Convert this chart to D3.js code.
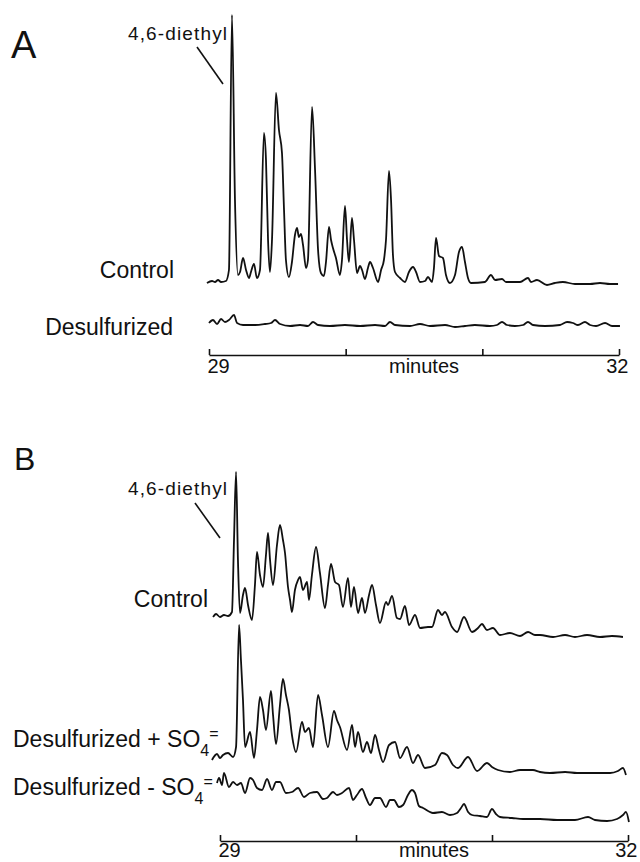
<!DOCTYPE html>
<html>
<head>
<meta charset="utf-8">
<script src="https://cdn.jsdelivr.net/npm/d3@7"></script>
<style>
  body { margin: 0; background: #fff; }
  svg { display: block; font-family: "Liberation Sans", Arial, sans-serif; }
</style>
</head>
<body>
<svg id="chart" width="640" height="862"></svg>
<script>
// retention time (minutes) and detector response
const aControl = [
  [28.985, 2], [29.022, 4], [29.044, 3], [29.066, 5], [29.088, 3], [29.124, 4], [29.146, 15],
  [29.168, 270], [29.190, 85], [29.212, 10], [29.227, 13], [29.249, 27], [29.271, 15], [29.293, 7],
  [29.307, 13], [29.329, 21], [29.351, 7], [29.373, 15], [29.402, 152], [29.417, 125], [29.432, 45],
  [29.446, 13], [29.461, 45], [29.490, 192], [29.512, 155], [29.534, 132], [29.549, 75], [29.563, 25],
  [29.585, 8], [29.607, 23], [29.629, 50], [29.644, 57], [29.658, 48], [29.673, 51], [29.688, 40],
  [29.710, 17], [29.724, 25], [29.754, 178], [29.776, 115], [29.798, 35], [29.819, 12], [29.841, 9],
  [29.856, 23], [29.878, 58], [29.893, 45], [29.907, 37], [29.929, 27], [29.958, 10], [29.973, 25],
  [29.995, 79], [30.010, 45], [30.024, 23], [30.046, 67], [30.061, 45], [30.083, 12], [30.105, 19],
  [30.120, 15], [30.141, 6], [30.163, 17], [30.178, 23], [30.200, 17], [30.237, 3], [30.259, 15],
  [30.280, 25], [30.295, 45], [30.317, 114], [30.332, 85], [30.346, 30], [30.361, 13], [30.398, 7],
  [30.434, 3], [30.463, 13], [30.493, 18], [30.515, 13], [30.544, 3], [30.581, 4], [30.602, 8],
  [30.632, 3], [30.646, 17], [30.661, 47], [30.683, 29], [30.712, 27], [30.734, 10], [30.763, 2],
  [30.800, 10], [30.829, 33], [30.851, 38], [30.873, 23], [30.895, 7], [30.917, 2], [31.019, 3],
  [31.063, 10], [31.093, 5], [31.144, 6], [31.173, 3], [31.276, 3], [31.334, 7], [31.356, 3],
  [31.400, 5], [31.473, 0], [31.532, 2], [31.590, 3], [31.678, 1], [31.788, 1], [31.861, 2],
  [31.934, 1], [31.993, 1]
]

const aDesulf = [
  [29.000, 4], [29.029, 7], [29.059, 3], [29.088, 8], [29.117, 5], [29.146, 7], [29.183, 12],
  [29.205, 4], [29.249, 2], [29.337, 2], [29.410, 3], [29.454, 4], [29.483, 7], [29.520, 3],
  [29.593, 1], [29.666, 2], [29.724, 1], [29.761, 5], [29.798, 2], [29.885, 1], [29.995, 2],
  [30.105, 1], [30.215, 2], [30.288, 1], [30.324, 5], [30.361, 2], [30.471, 1], [30.544, 3],
  [30.617, 1], [30.727, 2], [30.800, 0], [30.873, 1], [30.946, 2], [31.056, 1], [31.107, 2],
  [31.144, 5], [31.180, 2], [31.239, 1], [31.298, 2], [31.334, 5], [31.371, 2], [31.459, 1],
  [31.568, 2], [31.620, 5], [31.663, 4], [31.700, 2], [31.751, 5], [31.788, 2], [31.832, 1],
  [31.898, 4], [31.949, 1], [32.007, 1]
]

const bControl = [
  [28.949, 21], [28.971, 24], [29.000, 21], [29.029, 23], [29.059, 22], [29.088, 26], [29.103, 98],
  [29.118, 166], [29.132, 78], [29.147, 25], [29.169, 43], [29.184, 50], [29.206, 33], [29.235, 18],
  [29.257, 53], [29.272, 86], [29.294, 63], [29.316, 51], [29.338, 83], [29.353, 105], [29.368, 78],
  [29.390, 53], [29.419, 93], [29.441, 113], [29.463, 98], [29.478, 85], [29.500, 51], [29.515, 38],
  [29.529, 26], [29.551, 48], [29.574, 58], [29.588, 61], [29.610, 48], [29.640, 56], [29.654, 38],
  [29.676, 63], [29.706, 91], [29.735, 65], [29.772, 30], [29.794, 53], [29.816, 74], [29.846, 56],
  [29.875, 53], [29.904, 31], [29.941, 60], [29.963, 31], [29.985, 51], [30.015, 25], [30.044, 40],
  [30.066, 25], [30.096, 43], [30.118, 53], [30.147, 33], [30.176, 15], [30.221, 36], [30.235, 33],
  [30.265, 42], [30.301, 20], [30.324, 19], [30.360, 32], [30.390, 13], [30.434, 23], [30.471, 10],
  [30.529, 11], [30.559, 11], [30.603, 28], [30.632, 23], [30.654, 26], [30.706, 11], [30.743, 6],
  [30.794, 21], [30.853, 6], [30.897, 10], [30.926, 14], [30.963, 8], [31.007, 10], [31.059, 3],
  [31.132, 5], [31.206, 2], [31.265, 6], [31.316, 3], [31.353, 3], [31.449, 1], [31.537, 3],
  [31.610, 1], [31.699, 3], [31.794, 1], [31.882, 2], [31.963, 1]
]

const bDesulfPlus = [
  [28.941, 15], [28.978, 21], [29.000, 17], [29.022, 20], [29.059, 22], [29.096, 18], [29.118, 28],
  [29.140, 150], [29.154, 115], [29.169, 75], [29.184, 28], [29.221, 43], [29.250, 17], [29.272, 45],
  [29.294, 78], [29.316, 65], [29.338, 45], [29.375, 84], [29.390, 60], [29.412, 31], [29.441, 70],
  [29.463, 96], [29.485, 80], [29.507, 65], [29.529, 40], [29.559, 23], [29.603, 53], [29.625, 43],
  [29.654, 47], [29.684, 28], [29.721, 80], [29.750, 60], [29.794, 28], [29.838, 64], [29.860, 55],
  [29.882, 48], [29.934, 25], [29.971, 50], [29.993, 28], [30.015, 43], [30.051, 23], [30.081, 33],
  [30.110, 22], [30.140, 40], [30.169, 25], [30.199, 13], [30.243, 30], [30.287, 33], [30.324, 17],
  [30.375, 28], [30.419, 12], [30.456, 20], [30.507, 7], [30.581, 10], [30.632, 22], [30.669, 20],
  [30.713, 10], [30.750, 7], [30.824, 18], [30.890, 4], [30.963, 12], [31.000, 8], [31.044, 5],
  [31.132, 3], [31.206, 5], [31.301, 5], [31.353, 3], [31.426, 2], [31.537, 3], [31.625, 2],
  [31.757, 2], [31.868, 2], [31.926, 4], [31.963, 7], [31.985, 0]
]

const bDesulfMinus = [
  [28.978, 39], [28.993, 44], [29.015, 37], [29.029, 49], [29.066, 35], [29.096, 40], [29.125, 37],
  [29.154, 39], [29.184, 29], [29.221, 44], [29.243, 42], [29.272, 34], [29.309, 32], [29.346, 43],
  [29.382, 32], [29.412, 40], [29.441, 40], [29.485, 29], [29.529, 30], [29.574, 34], [29.618, 25],
  [29.662, 29], [29.713, 30], [29.757, 23], [29.787, 24], [29.831, 30], [29.860, 27], [29.897, 29],
  [29.949, 34], [29.978, 22], [30.007, 27], [30.044, 33], [30.074, 24], [30.103, 17], [30.140, 24],
  [30.176, 24], [30.221, 15], [30.250, 22], [30.279, 22], [30.316, 15], [30.346, 17], [30.382, 27],
  [30.412, 32], [30.434, 29], [30.463, 16], [30.493, 14], [30.566, 9], [30.632, 10], [30.691, 7],
  [30.743, 9], [30.772, 14], [30.794, 18], [30.824, 10], [30.853, 7], [30.912, 6], [30.963, 5],
  [31.000, 13], [31.029, 8], [31.059, 5], [31.147, 4], [31.228, 3], [31.353, 3], [31.478, 2],
  [31.610, 2], [31.706, 5], [31.757, 2], [31.846, 1], [31.919, 3], [31.963, 7], [31.985, 10],
  [32.007, 0]
]

const minuteTicks = [29, 30, 31, 32]
const tickLabels = { 29: '29', 32: '32' }
const peakLabel = '4,6-diethyl'

const svg = d3.select('#chart')

// each panel has its own time axis
const xA = d3.scaleLinear().domain([29, 32]).range([209, 619])
const xB = d3.scaleLinear().domain([29, 32]).range([220, 628])

// response scale, one per trace, stacked by baseline
const yFor = base => d3.scaleLinear().domain([0, 100]).range([base, base - 100])

const drawTrace = (data, x, base) => {
  const y = yFor(base)
  const line = d3.line()
    .x(d => x(d[0]))
    .y(d => y(d[1]))
    .curve(d3.curveMonotoneX)
  svg.append('path')
    .datum(data)
    .attr('d', line)
    .attr('fill', 'none')
    .attr('stroke', '#111')
    .attr('stroke-width', 1.8)
    .attr('stroke-linejoin', 'round')
}

const drawAxis = (x, yPos, labelY) => {
  const g = svg.append('g')
    .attr('transform', `translate(0,${yPos})`)
    .call(d3.axisBottom(x)
      .tickValues(minuteTicks)
      .tickSizeInner(-6)
      .tickSizeOuter(0)
      .tickFormat(d => tickLabels[d] || ''))
  g.select('.domain').attr('stroke', '#111').attr('stroke-width', 1.6)
  g.selectAll('.tick line').attr('stroke', '#111').attr('stroke-width', 1.6)
  g.selectAll('.tick text')
    .attr('y', labelY)
    .attr('dy', 0)
    .attr('font-size', 20)
    .attr('font-family', '"Liberation Sans", Arial, sans-serif')
    .attr('fill', '#111')
    .attr('text-anchor', d => d === 29 ? 'start' : 'end')
    .attr('dx', d => d === 29 ? -2 : 9)

  svg.append('text')
    .attr('x', x(30.5) + 10)
    .attr('y', yPos + labelY)
    .attr('text-anchor', 'middle')
    .attr('font-size', 20)
    .attr('fill', '#111')
    .text('minutes')
}

const label = (txt, x, y, size, anchor) =>
  svg.append('text')
    .attr('x', x)
    .attr('y', y)
    .attr('font-size', size)
    .attr('text-anchor', anchor || 'start')
    .attr('fill', '#111')
    .text(txt)

const callout = (x, y, x1, y1, x2, y2) => {
  svg.append('text')
    .attr('x', x)
    .attr('y', y)
    .attr('font-size', 19)
    .attr('textLength', 99)
    .attr('lengthAdjust', 'spacing')
    .attr('fill', '#111')
    .text(peakLabel)
  svg.append('line')
    .attr('x1', x1).attr('y1', y1)
    .attr('x2', x2).attr('y2', y2)
    .attr('stroke', '#111')
    .attr('stroke-width', 1.6)
}

const sulfateLabel = (sign, y) => {
  const t = svg.append('text')
    .attr('x', 13)
    .attr('y', y)
    .attr('font-size', 23)
    .attr('fill', '#111')
  t.append('tspan').text(`Desulfurized ${sign} SO`)
  t.append('tspan').attr('font-size', 16).attr('dy', 9).text('4')
  t.append('tspan').attr('font-size', 16).attr('dy', -17).text('=')
}

// Panel A
label('A', 11, 58, 38)
callout(128, 40, 197, 47, 223, 84)
drawTrace(aControl, xA, 285)
drawTrace(aDesulf, xA, 327)
label('Control', 174, 278, 23, 'end')
label('Desulfurized', 173, 335, 23, 'end')
drawAxis(xA, 355, 18)

// Panel B
label('B', 14, 470, 32)
callout(128, 495, 195, 503, 220, 538)
drawTrace(bControl, xB, 638)
drawTrace(bDesulfPlus, xB, 775)
drawTrace(bDesulfMinus, xB, 822)
label('Control', 208, 607, 23, 'end')
sulfateLabel('+', 747)
sulfateLabel('-', 795)
drawAxis(xB, 841, 16)
</script>
</body>
</html>
